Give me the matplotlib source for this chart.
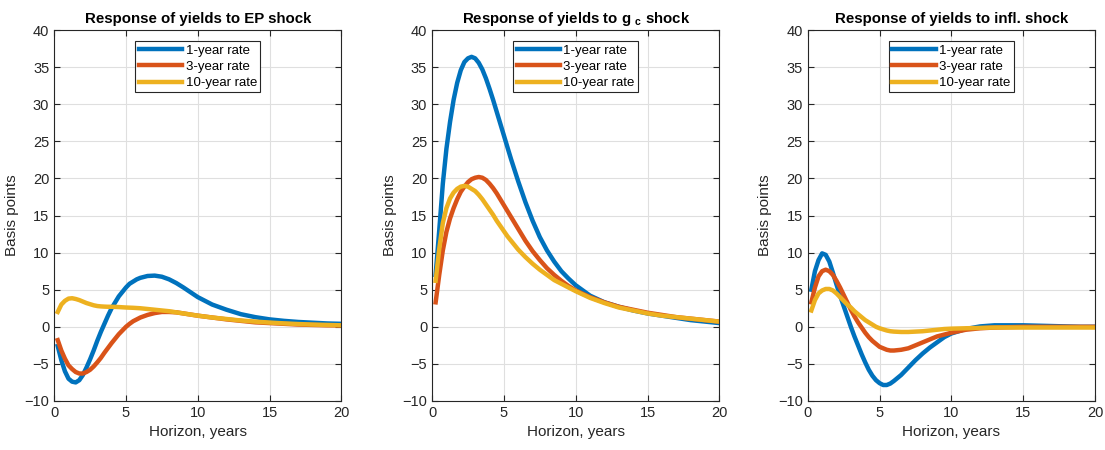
import matplotlib
matplotlib.use("Agg")
import matplotlib.pyplot as plt

plt.rcParams["font.family"] = ["Liberation Sans", "DejaVu Sans"]
plt.rcParams["mathtext.fontset"] = "custom"
plt.rcParams["mathtext.rm"] = "Liberation Sans"
plt.rcParams["mathtext.bf"] = "Liberation Sans:bold"

# horizon in years (quarterly to 6y, half-yearly to 10y, then yearly)
horizon = [0.25, 0.5, 0.75, 1, 1.25, 1.5, 1.75, 2, 2.25, 2.5, 2.75, 3, 3.25, 3.5, 3.75, 4,
           4.25, 4.5, 4.75, 5, 5.25, 5.5, 5.75, 6,
           6.5, 7, 7.5, 8, 8.5, 9, 9.5, 10,
           11, 12, 13, 14, 15, 16, 17, 18, 19, 20]

series_names = ["1-year rate", "3-year rate", "10-year rate"]

# EP shock
ep_1y = [-2.6, -4.5, -6.0, -7.0, -7.4, -7.5, -7.2, -6.5, -5.5, -4.4, -3.2, -1.9, -0.7, 0.4, 1.5, 2.5,
         3.3, 4.1, 4.7, 5.3, 5.8, 6.1, 6.4, 6.6,
         6.85, 6.9, 6.75, 6.4, 5.9, 5.3, 4.65, 4.0,
         3.0, 2.3, 1.7, 1.3, 1.0, 0.8, 0.65, 0.55, 0.45, 0.4]
ep_3y = [-1.8, -3.2, -4.3, -5.2, -5.7, -6.1, -6.3, -6.3, -6.1, -5.8, -5.35, -4.8, -4.2, -3.5, -2.85, -2.2,
         -1.6, -1.0, -0.5, 0.0, 0.4, 0.75, 1.0, 1.25,
         1.6, 1.85, 2.0, 2.0, 1.95, 1.8, 1.65, 1.5,
         1.25, 1.0, 0.8, 0.6, 0.5, 0.4, 0.3, 0.25, 0.2, 0.18]
ep_10y = [2.0, 3.0, 3.5, 3.8, 3.85, 3.75, 3.6, 3.4, 3.2, 3.05, 2.9, 2.8, 2.75, 2.72, 2.7, 2.7,
          2.68, 2.66, 2.63, 2.6, 2.58, 2.56, 2.53, 2.5,
          2.4, 2.3, 2.2, 2.1, 1.95, 1.8, 1.65, 1.5,
          1.25, 1.05, 0.85, 0.7, 0.57, 0.46, 0.37, 0.3, 0.25, 0.2]

# g_c shock
gc_1y = [7.0, 13.0, 19.3, 24.0, 27.6, 30.6, 32.9, 34.6, 35.7, 36.2, 36.4, 36.2, 35.6, 34.7, 33.5, 32.1,
         30.6, 29.0, 27.4, 25.8, 24.2, 22.6, 21.1, 19.6,
         16.8, 14.3, 12.1, 10.3, 8.8, 7.5, 6.5, 5.6,
         4.2, 3.3, 2.7, 2.2, 1.8, 1.5, 1.2, 0.9, 0.7, 0.5]
gc_3y = [3.3, 7.0, 10.3, 12.8, 14.6, 16.0, 17.2, 18.2, 18.9, 19.5, 19.9, 20.1, 20.2, 20.1, 19.8, 19.3,
         18.7, 18.0, 17.2, 16.4, 15.6, 14.8, 14.0, 13.2,
         11.6, 10.2, 9.0, 7.9, 7.0, 6.2, 5.5, 4.9,
         4.0, 3.3, 2.7, 2.3, 1.9, 1.6, 1.3, 1.1, 0.9, 0.7]
gc_10y = [6.2, 10.5, 14.0, 16.0, 17.3, 18.1, 18.6, 18.9, 19.0, 18.9, 18.6, 18.3, 17.8, 17.2, 16.5, 15.8,
          15.1, 14.3, 13.6, 12.9, 12.2, 11.6, 11.0, 10.4,
          9.4, 8.5, 7.7, 7.0, 6.3, 5.8, 5.3, 4.8,
          3.9, 3.2, 2.6, 2.2, 1.8, 1.5, 1.3, 1.1, 0.9, 0.7]

# inflation shock
inf_1y = [5.0, 7.5, 9.0, 9.9, 9.7, 8.8, 7.3, 5.7, 4.2, 2.8, 1.4, 0.0, -1.3, -2.5, -3.7, -4.8,
          -5.8, -6.6, -7.2, -7.6, -7.85, -7.85, -7.65, -7.3,
          -6.5, -5.5, -4.5, -3.6, -2.8, -2.1, -1.4, -0.9,
          -0.3, 0.05, 0.2, 0.2, 0.2, 0.15, 0.1, 0.05, 0.0, 0.0]
inf_3y = [3.3, 5.3, 6.8, 7.5, 7.7, 7.5, 7.0, 6.2, 5.3, 4.3, 3.3, 2.3, 1.4, 0.6, -0.1, -0.8,
          -1.4, -1.9, -2.3, -2.7, -2.9, -3.1, -3.2, -3.2,
          -3.1, -2.9, -2.5, -2.1, -1.7, -1.3, -1.05, -0.8,
          -0.4, -0.2, -0.1, -0.05, 0.0, 0.0, 0.0, 0.0, 0.0, 0.0]
inf_10y = [2.2, 3.6, 4.5, 4.9, 5.1, 5.1, 4.9, 4.5, 4.0, 3.5, 3.0, 2.6, 2.1, 1.7, 1.3, 0.9,
           0.6, 0.3, 0.0, -0.2, -0.35, -0.5, -0.6, -0.65,
           -0.7, -0.7, -0.65, -0.6, -0.5, -0.4, -0.3, -0.25,
           -0.2, -0.15, -0.1, -0.1, -0.1, -0.1, -0.1, -0.1, -0.1, -0.1]

titles = ["Response of yields to EP shock",
          r"Response of yields to g $_\mathbf{c}$ shock",
          "Response of yields to infl. shock"]
panels = [(ep_1y, ep_3y, ep_10y), (gc_1y, gc_3y, gc_10y), (inf_1y, inf_3y, inf_10y)]
colors = ["#0072BD", "#D95319", "#EDB120"]

fig = plt.figure(figsize=(11.05, 4.5), dpi=100)
lefts = [0.049, 0.391, 0.731]
for i in range(3):
    ax = fig.add_axes([lefts[i], 0.109, 0.26, 0.824])
    for vals, c, name in zip(panels[i], colors, series_names):
        ax.plot(horizon, vals, color=c, lw=3.2, label=name)
    ax.set_xlim(0, 20)
    ax.set_ylim(-10, 40)
    ax.set_xticks([0, 5, 10, 15, 20])
    ax.set_yticks(range(-10, 41, 5))
    ax.grid(True, color="#dfdfdf", lw=0.8)
    ax.set_axisbelow(True)
    ax.tick_params(direction="in", top=True, right=True, labelsize=10.5,
                   colors="#262626", length=4)
    for s in ax.spines.values():
        s.set_color("#262626")
        s.set_linewidth(0.8)
    ax.set_title(titles[i], fontsize=10.8, fontweight="bold", pad=5)
    ax.set_xlabel("Horizon, years", fontsize=11, color="#262626")
    ax.set_ylabel("Basis points", fontsize=11, color="#262626")
    leg = ax.legend(loc="upper center", bbox_to_anchor=(0.5, 0.97), fontsize=9.5,
                    handlelength=3.3, fancybox=False, edgecolor="#262626",
                    framealpha=1, borderpad=0.25, labelspacing=0.3, handletextpad=0.25,
                    borderaxespad=0)
    leg.get_frame().set_linewidth(0.8)

fig.savefig("out.png", dpi=100)
